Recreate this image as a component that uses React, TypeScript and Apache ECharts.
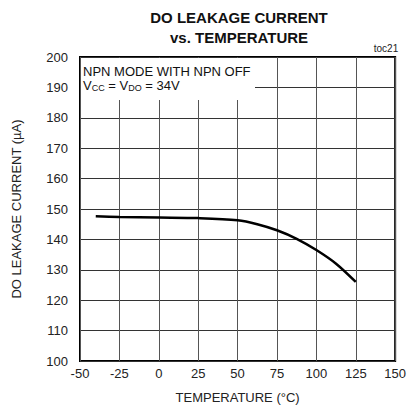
import React, { useEffect, useRef } from "react";
import * as echarts from "echarts";

const temperatures = [-40, -25, 0, 25, 50, 62.5, 75, 87.5, 100, 112.5, 125];
const leakage = [147.6, 147.4, 147.2, 147.0, 146.3, 145.0, 143.0, 140.2, 136.5, 132.0, 126.0];
const xTicks = { min: -50, max: 150, interval: 25 };
const yTicks = { min: 100, max: 200, interval: 10 };
const titleLines = ["DO LEAKAGE CURRENT", "vs. TEMPERATURE"];
const FONT = "Liberation Sans, Arial, sans-serif";

export default function App() {
  const ref = useRef<HTMLDivElement>(null);
  useEffect(() => {
    if (!ref.current) return;
    const chart = echarts.init(ref.current, null, { renderer: "svg" });
    chart.setOption({
      animation: false,
      backgroundColor: "#fff",
      textStyle: { fontFamily: FONT },
      grid: {
        left: 80,
        right: 12,
        top: 57,
        bottom: 58,
        show: true,
        borderColor: "#000",
        borderWidth: 2,
        backgroundColor: "transparent",
      },
      xAxis: {
        type: "value",
        min: xTicks.min,
        max: xTicks.max,
        interval: xTicks.interval,
        name: "TEMPERATURE (°C)",
        nameLocation: "middle",
        nameGap: 30,
        nameTextStyle: { fontSize: 13, color: "#222", fontFamily: FONT },
        axisLine: { show: false },
        axisTick: { show: false },
        axisLabel: { fontSize: 13, color: "#222", margin: 6, fontFamily: FONT, showMaxLabel: true, showMinLabel: true },
        splitLine: { show: true, lineStyle: { color: "#555", width: 1 } },
      },
      yAxis: {
        type: "value",
        min: yTicks.min,
        max: yTicks.max,
        interval: yTicks.interval,
        name: "DO LEAKAGE CURRENT (µA)",
        nameLocation: "middle",
        nameGap: 57,
        nameTextStyle: { fontSize: 13, color: "#222", fontFamily: FONT },
        axisLine: { show: false },
        axisTick: { show: false },
        axisLabel: { fontSize: 13, color: "#222", margin: 12, fontFamily: FONT },
        splitLine: { show: true, lineStyle: { color: "#333", width: 1 } },
      },
      graphic: [
        {
          type: "text",
          x: 239,
          y: 17,
          style: {
            text: titleLines[0],
            fontSize: 15,
            fontWeight: "bold",
            fontFamily: FONT,
            fill: "#111",
            align: "center",
            verticalAlign: "middle",
          },
        },
        {
          type: "text",
          x: 239,
          y: 37,
          style: {
            text: titleLines[1],
            fontSize: 15,
            fontWeight: "bold",
            fontFamily: FONT,
            fill: "#111",
            align: "center",
            verticalAlign: "middle",
          },
        },
        {
          type: "rect",
          z: 1,
          shape: { x: 81, y: 58, width: 174, height: 42 },
          style: { fill: "#fff" },
        },
        {
          type: "text",
          z: 2,
          x: 83,
          y: 71,
          style: {
            text: "NPN MODE WITH NPN OFF",
            fontSize: 13,
            fontFamily: FONT,
            fill: "#111",
            verticalAlign: "middle",
          },
        },
        {
          type: "text",
          z: 2,
          x: 83,
          y: 85,
          style: {
            text: "{a|V}{s|CC}{a| = V}{s|DO}{a| = 34V}",
            verticalAlign: "middle",
            fill: "#111",
            rich: {
              a: { fontSize: 13, fontFamily: FONT, fill: "#111", lineHeight: 16 },
              s: { fontSize: 9, fontFamily: FONT, fill: "#111", lineHeight: 16, padding: [6, 0, 0, 0] },
            },
          },
        },
        {
          type: "text",
          z: 2,
          x: 386,
          y: 48,
          style: {
            text: "toc21",
            fontSize: 10,
            fontFamily: FONT,
            fill: "#222",
            align: "center",
            verticalAlign: "middle",
          },
        },
      ],
      series: [
        {
          type: "line",
          data: temperatures.map((t, i) => [t, leakage[i]]),
          smooth: 0.3,
          showSymbol: false,
          lineStyle: { color: "#000", width: 2.5 },
          z: 3,
        },
      ],
    });
    return () => chart.dispose();
  }, []);
  return <div ref={ref} style={{ position: "fixed", left: 0, top: 0, width: 409, height: 419 }} />;
}
